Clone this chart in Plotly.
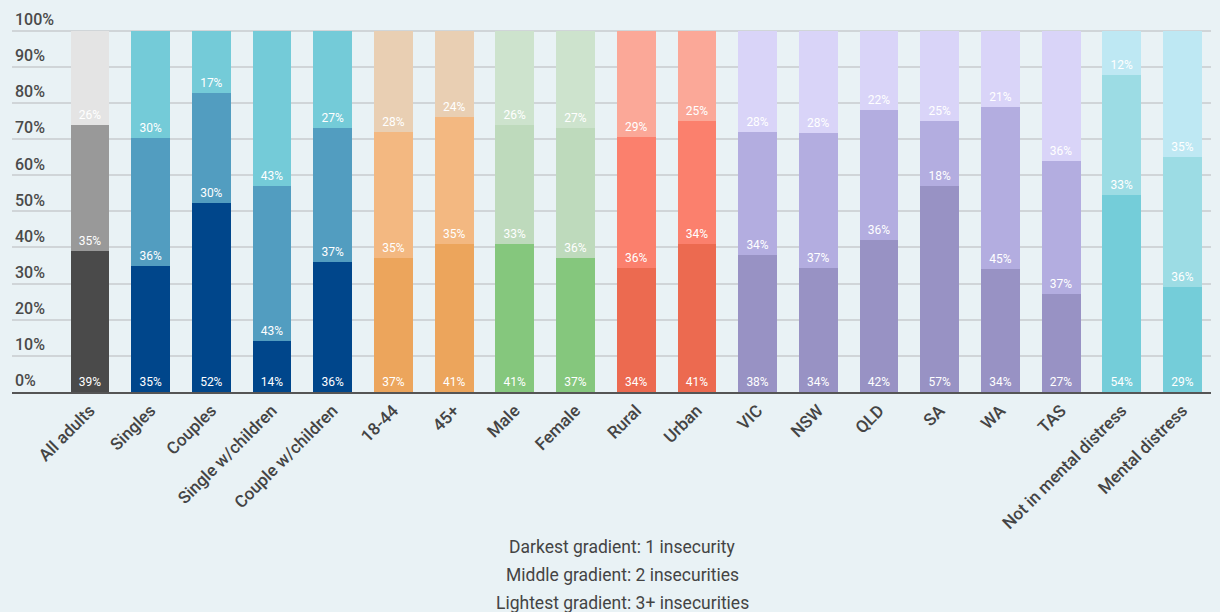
import plotly.graph_objects as go

categories = ["All adults", "Singles", "Couples", "Single w/children", "Couple w/children",
              "18-44", "45+", "Male", "Female", "Rural", "Urban",
              "VIC", "NSW", "QLD", "SA", "WA", "TAS",
              "Not in mental distress", "Mental distress"]
groups = ["all", "family", "family", "family", "family",
          "age", "age", "gender", "gender", "location", "location",
          "state", "state", "state", "state", "state", "state",
          "mental", "mental"]

# shares (%); each bar fills 100%
one_insecurity = [39, 34.8, 52.4, 14, 36, 37, 41, 41, 37, 34.4, 41, 38, 34.4, 42, 57, 34, 27, 54.4, 29]
two_insecurities = [35, 35.6, 30.3, 43, 37, 35, 35, 33, 36, 36.3, 34, 34, 37.3, 36, 18, 45, 37, 33.3, 36]
three_plus = [26, 29.6, 17.3, 43, 27, 28, 24, 26, 27, 29.3, 25, 28, 28.3, 22, 25, 21, 36, 12.3, 35]

tick_values = [0, 10, 20, 30, 40, 50, 60, 70, 80, 90, 100]
tick_labels = [f"{v}%" for v in tick_values]

legend_lines = ["Darkest gradient: 1 insecurity",
                "Middle gradient: 2 insecurities",
                "Lightest gradient: 3+ insecurities"]

palette = {
    "all":      ("#4a4a4a", "#999999", "#e4e4e4"),
    "family":   ("#00468b", "#529dc0", "#74cbd8"),
    "age":      ("#eca55c", "#f3b881", "#e9cfb3"),
    "gender":   ("#85c77d", "#bedabc", "#cde3cd"),
    "location": ("#ec6a50", "#fb806d", "#fba898"),
    "state":    ("#9892c4", "#b3ade0", "#d9d4f8"),
    "mental":   ("#74cdd9", "#9cdce4", "#bee8f3"),
}

FONT = "Roboto, Arial, sans-serif"
fig = go.Figure()
for level, vals in enumerate([one_insecurity, two_insecurities, three_plus]):
    fig.add_trace(go.Bar(
        x=categories, y=vals,
        marker=dict(color=[palette[g][level] for g in groups], line=dict(width=0)),
        text=[f"{round(v)}%" for v in vals],
        textposition="inside", insidetextanchor="start", textangle=0,
        textfont=dict(color="white", size=12, family=FONT),
        hoverinfo="x+y", showlegend=False,
    ))

bg = "#e9f2f5"
fig.update_layout(
    barmode="stack", bargap=0.36,
    width=1220, height=612,
    margin=dict(l=12, r=9, t=9, b=220),
    paper_bgcolor=bg, plot_bgcolor=bg,
    font=dict(family=FONT, color="#444"),
    xaxis=dict(range=[-1.285, 18.47], tickangle=-45,
               tickfont=dict(size=17, color="#444", family=FONT, weight=500),
               showline=True, linecolor="#555", linewidth=2,
               showgrid=False, ticks=""),
    yaxis=dict(range=[0, 106], tickvals=tick_values, ticktext=tick_labels,
               ticklabelposition="inside top",
               tickfont=dict(size=16, color="#4a4a4a", family=FONT, weight=500),
               showgrid=True, gridcolor="#d0d5d8", gridwidth=1.6,
               zeroline=False, ticks=""),
)

for i, line in enumerate(legend_lines):
    fig.add_annotation(text=line, xref="paper", yref="paper",
                       x=0.509, y=-0.4047 - 0.0731 * i, xanchor="center", yanchor="middle",
                       showarrow=False, font=dict(size=17.5, color="#444", family=FONT))

fig.write_html("out.html")
